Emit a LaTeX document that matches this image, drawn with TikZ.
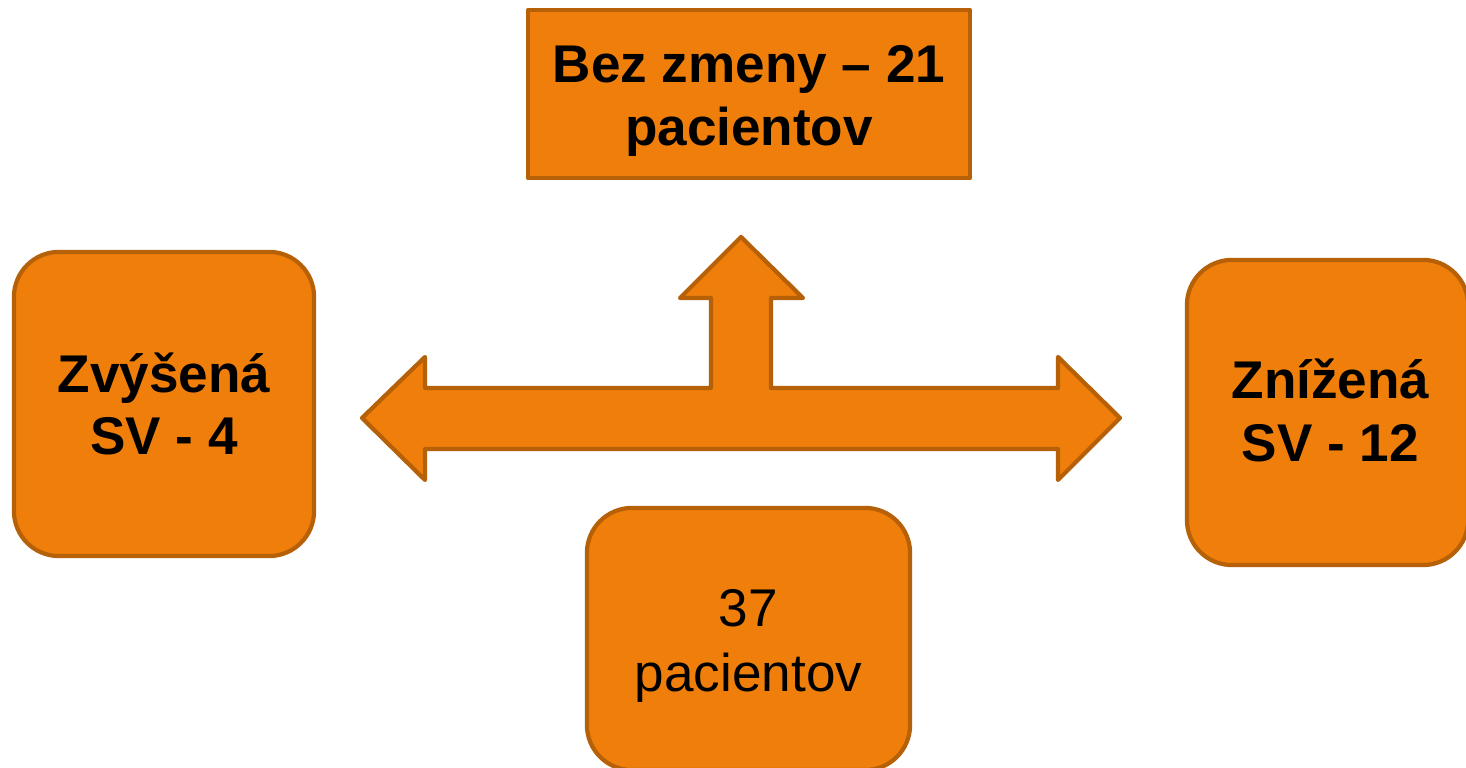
\documentclass[tikz,border=0pt]{standalone}
\usepackage{fontspec}
\setmainfont{Liberation Sans}
\definecolor{boxfill}{RGB}{239,127,10}
\definecolor{boxline}{RGB}{182,96,8}
\begin{document}
\begin{tikzpicture}[x=0.01cm,y=-0.01cm,
  shapebase/.style={fill=boxfill,draw=boxline,line width=1.2pt,line join=round},
  roundbox/.style={shapebase,rounded corners=0.45cm,inner sep=0pt,outer sep=0pt},
  squarebox/.style={shapebase,inner sep=0pt,outer sep=0pt},
  boldtext/.style={inner sep=0pt,align=center,font=\fontsize{15.1pt}{17.8pt}\selectfont\bfseries},
  plaintext/.style={inner sep=0pt,align=center,font=\fontsize{15.1pt}{18.6pt}\selectfont}]
\useasboundingbox (0,0) rectangle (1466,768);
\clip (0,0) rectangle (1466,768);
\fill[white] (0,0) rectangle (1466,768);
% boxes
\node[squarebox,minimum width=4.42cm,minimum height=1.68cm] (top) at (749,94) {};
\node[roundbox,minimum width=3.0cm,minimum height=3.04cm] (left) at (164,404) {};
\node[roundbox,minimum width=2.81cm,minimum height=3.05cm] (right) at (1327.5,412.5) {};
\node[roundbox,minimum width=3.23cm,minimum height=2.62cm] (bottom) at (748.5,639) {};
% texts
\node[boldtext] (toptext) at ([yshift=-0.07cm]top.center) {Bez zmeny -- 21\\pacientov};
\node[boldtext] (lefttext) at ([yshift=0.0cm]left.center) {Zvýšená\\SV - 4};
\node[boldtext] (righttext) at ([xshift=0.03cm,yshift=0.02cm]right.center) {Znížená\\SV - 12};
\node[plaintext] (bottomtext) at ([yshift=-0.07cm]bottom.center) {37\\pacientov};
% three-way arrow
\draw[shapebase] (362,418) -- (425,357) -- (425,388) -- (711,388) -- (711,298) -- (680,298)
  -- (741,237) -- (803,298) -- (771,298) -- (771,388) -- (1058,388) -- (1058,357)
  -- (1120,418) -- (1058,480) -- (1058,449) -- (425,449) -- (425,480) -- cycle;
\end{tikzpicture}
\end{document}
